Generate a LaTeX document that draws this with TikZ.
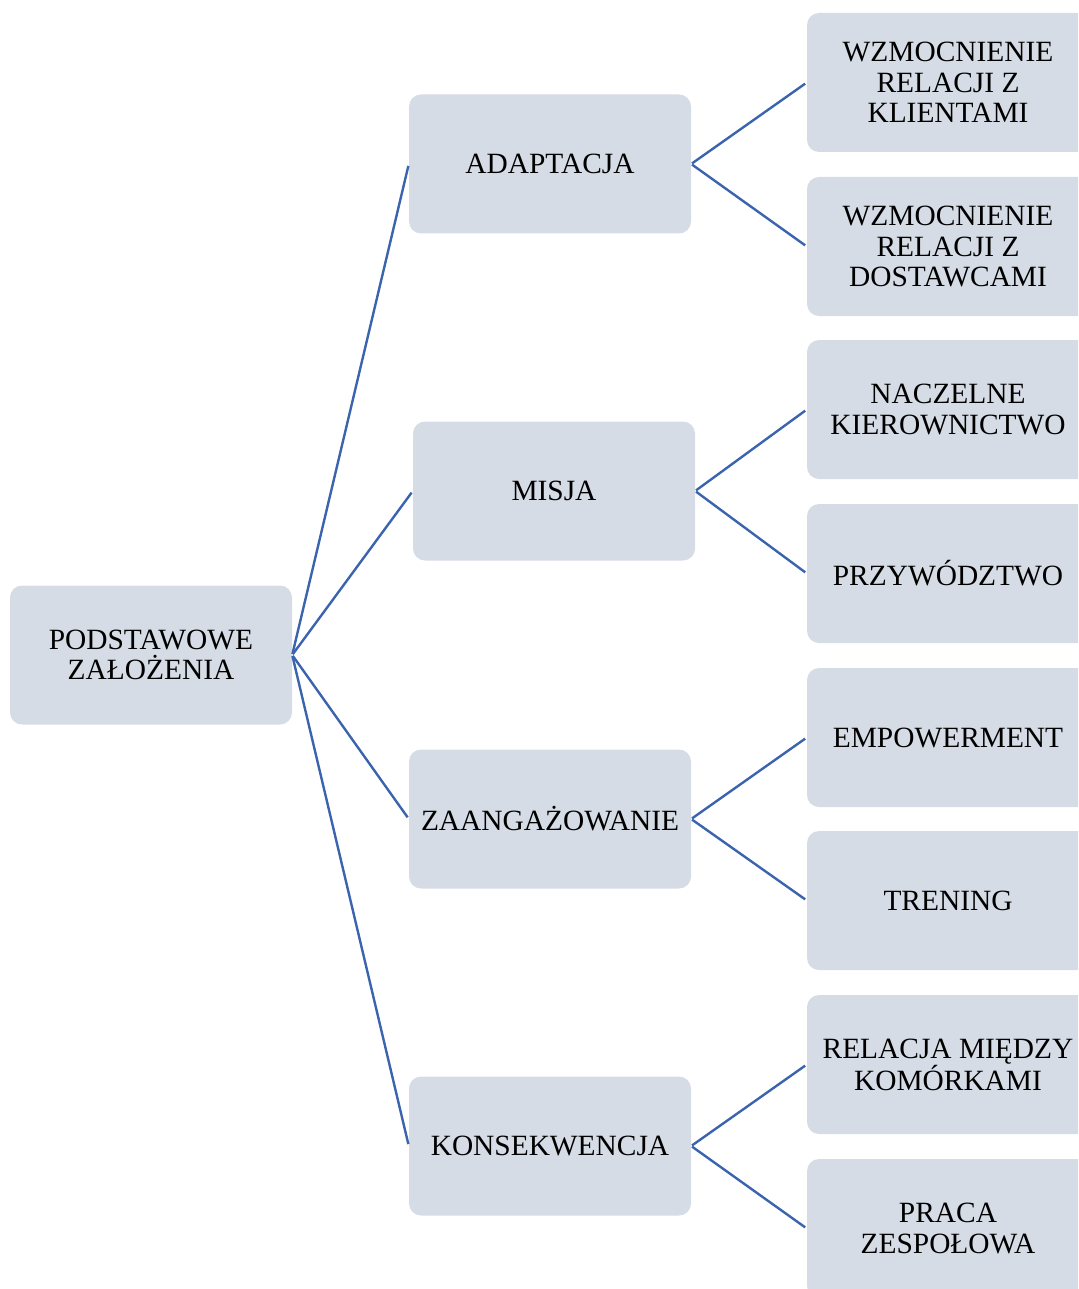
\documentclass[tikz,border=0pt]{standalone}
\usepackage{fontspec}
\setmainfont{Liberation Serif}
\definecolor{boxfill}{HTML}{D6DCE5}
\definecolor{linkblue}{HTML}{3B64AE}
\begin{document}
\begin{tikzpicture}[x=1pt,y=-1pt,
  item/.style={rectangle, rounded corners=12pt, fill=boxfill,
    minimum width=282pt, minimum height=139pt, inner sep=0pt,
    align=center, font=\fontsize{29.4}{30.5}\selectfont},
  link/.style={draw=linkblue, line width=2.4pt, shorten >=2pt, shorten <=1pt}]
\useasboundingbox (0,0) rectangle (1078,1289);
\clip (0,0) rectangle (1078,1289);
% root
\node[item] (root) at (151,655) {PODSTAWOWE\\ZAŁOŻENIA};
% second level
\node[item] (ad) at (550,164) {ADAPTACJA};
\node[item] (mi) at (554,491) {MISJA};
\node[item] (za) at (550,819) {ZAANGAŻOWANIE};
\node[item] (ko) at (550,1146) {KONSEKWENCJA};
% third level
\node[item] (a1) at (948,82.5) {WZMOCNIENIE\\RELACJI Z\\KLIENTAMI};
\node[item] (a2) at (948,246.5) {WZMOCNIENIE\\RELACJI Z\\DOSTAWCAMI};
\node[item] (m1) at (948,409.5) {NACZELNE\\KIEROWNICTWO};
\node[item] (m2) at (948,573.5) {PRZYWÓDZTWO};
\node[item] (z1) at (948,737.5) {EMPOWERMENT};
\node[item] (z2) at (948,900.5) {TRENING};
\node[item] (k1) at (948,1064.5) {RELACJA MIĘDZY\\KOMÓRKAMI};
\node[item] (k2) at (948,1228.5) {PRACA\\ZESPOŁOWA};
% connectors
\foreach \t in {ad,mi,za,ko} \draw[link] (root.east) -- (\t.west);
\draw[link] (ad.east) -- (a1.west);
\draw[link] (ad.east) -- (a2.west);
\draw[link] (mi.east) -- (m1.west);
\draw[link] (mi.east) -- (m2.west);
\draw[link] (za.east) -- (z1.west);
\draw[link] (za.east) -- (z2.west);
\draw[link] (ko.east) -- (k1.west);
\draw[link] (ko.east) -- (k2.west);
\end{tikzpicture}
\end{document}
